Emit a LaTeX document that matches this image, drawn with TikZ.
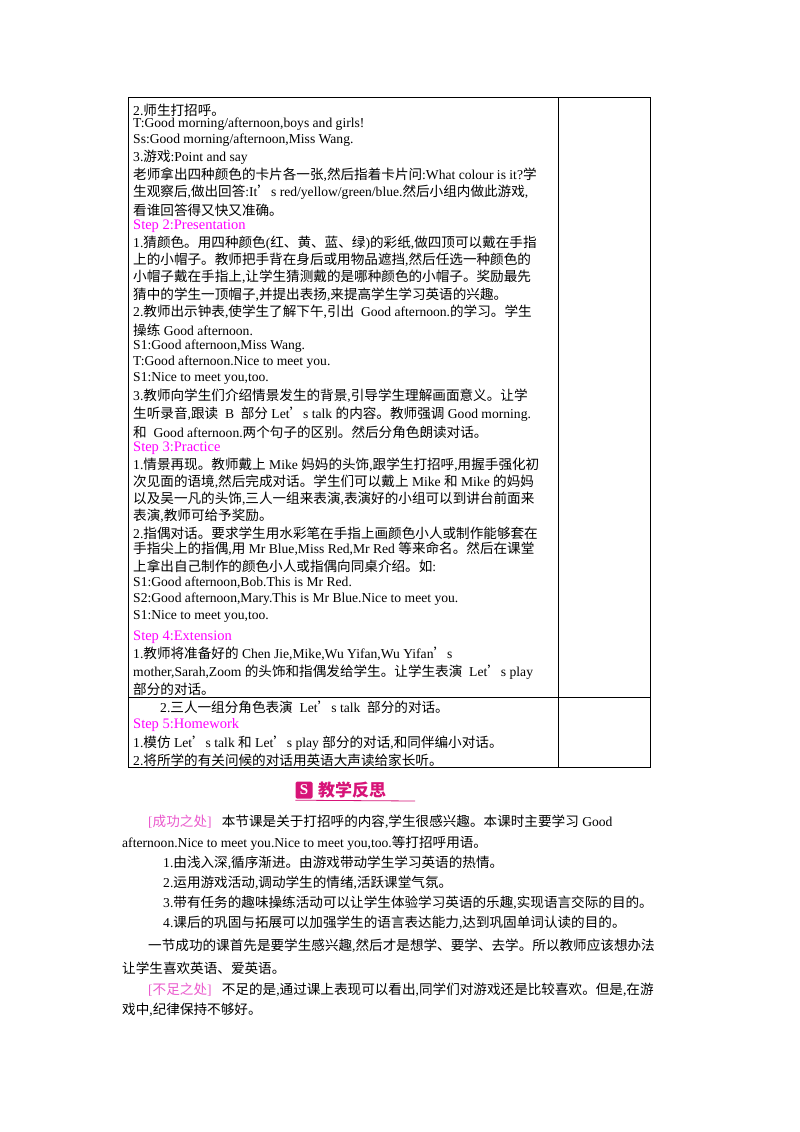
\documentclass[tikz,border=0pt]{standalone}
\usepackage{fontspec}
\setmainfont{Liberation Serif}
\newfontfamily\cjk{Noto Sans CJK SC}
\XeTeXinterchartokenstate=1
\newXeTeXintercharclass\cjkclass
\newcount\cc
\cc="3000 \loop\ifnum\cc<"A000 \XeTeXcharclass\cc=\cjkclass \advance\cc by 1 \repeat
\cc="FF00 \loop\ifnum\cc<"FFF0 \XeTeXcharclass\cc=\cjkclass \advance\cc by 1 \repeat
\XeTeXcharclass"2019=\cjkclass
\XeTeXinterchartoks 0 \cjkclass={\begingroup\cjk}
\XeTeXinterchartoks 4095 \cjkclass={\begingroup\cjk}
\XeTeXinterchartoks \cjkclass 0={\endgroup}
\XeTeXinterchartoks \cjkclass 4095={\endgroup}
\definecolor{mag}{RGB}{255,0,255}
\definecolor{pinkl}{RGB}{235,90,205}
\definecolor{hdr}{RGB}{215,20,120}
\begin{document}
\begin{tikzpicture}[x=1pt,y=-1pt,
  tl/.style={anchor=west,inner sep=0pt,font=\fontsize{13.6}{16}\selectfont},
  sh/.style={tl,text=mag,font=\fontsize{14.5}{16}\selectfont}]
\useasboundingbox[fill=white] (0,0) rectangle (800,1132);
\draw[line width=0.9pt] (128,97) rectangle (650,767);
\draw[line width=0.7pt] (558,97) -- (558,767);
\draw[line width=0.7pt] (128,697) -- (650,697);
% table text
\node[tl] (a1) at (133,110) {2.师生打招呼。};
\node[tl] (a2) at (133,124) {T:Good morning/afternoon,boys and girls!};
\node[tl] (a3) at (133,140) {Ss:Good morning/afternoon,Miss Wang.};
\node[tl] (a4) at (133,157) {3.游戏:Point and say};
\node[tl] (a5) at (133,175) {老师拿出四种颜色的卡片各一张,然后指着卡片问:What colour is it?学};
\node[tl] (a6) at (133,192) {生观察后,做出回答:It’s red/yellow/green/blue.然后小组内做此游戏,};
\node[tl] (a7) at (133,210) {看谁回答得又快又准确。};
\node[sh] (s2) at (133,226) {Step 2:Presentation};
\node[tl] (b1) at (133,243) {1.猜颜色。用四种颜色(红、黄、蓝、绿)的彩纸,做四顶可以戴在手指};
\node[tl] (b2) at (133,260) {上的小帽子。教师把手背在身后或用物品遮挡,然后任选一种颜色的};
\node[tl] (b3) at (133,277) {小帽子戴在手指上,让学生猜测戴的是哪种颜色的小帽子。奖励最先};
\node[tl] (b4) at (133,295) {猜中的学生一顶帽子,并提出表扬,来提高学生学习英语的兴趣。};
\node[tl] (b5) at (133,312) {2.教师出示钟表,使学生了解下午,引出 \ Good afternoon.的学习。学生};
\node[tl] (b6) at (133,330) {操练 Good afternoon.};
\node[tl] (b7) at (133,346) {S1:Good afternoon,Miss Wang.};
\node[tl] (b8) at (133,362) {T:Good afternoon.Nice to meet you.};
\node[tl] (b9) at (133,378) {S1:Nice to meet you,too.};
\node[tl] (b10) at (133,396) {3.教师向学生们介绍情景发生的背景,引导学生理解画面意义。让学};
\node[tl] (b11) at (133,414) {生听录音,跟读 \ B \ 部分 Let’s talk 的内容。教师强调 Good morning.};
\node[tl] (b12) at (133,432) {和 \ Good afternoon.两个句子的区别。然后分角色朗读对话。};
\node[sh] (s3) at (133,448) {Step 3:Practice};
\node[tl] (c1) at (133,465) {1.情景再现。教师戴上 Mike 妈妈的头饰,跟学生打招呼,用握手强化初};
\node[tl] (c2) at (133,482) {次见面的语境,然后完成对话。学生们可以戴上 Mike 和 Mike 的妈妈};
\node[tl] (c3) at (133,499) {以及吴一凡的头饰,三人一组来表演,表演好的小组可以到讲台前面来};
\node[tl] (c4) at (133,516) {表演,教师可给予奖励。};
\node[tl] (c5) at (133,533) {2.指偶对话。要求学生用水彩笔在手指上画颜色小人或制作能够套在};
\node[tl] (c6) at (133,549) {手指尖上的指偶,用 Mr Blue,Miss Red,Mr Red 等来命名。然后在课堂};
\node[tl] (c7) at (133,566) {上拿出自己制作的颜色小人或指偶向同桌介绍。如:};
\node[tl] (c8) at (133,583) {S1:Good afternoon,Bob.This is Mr Red.};
\node[tl] (c9) at (133,599) {S2:Good afternoon,Mary.This is Mr Blue.Nice to meet you.};
\node[tl] (c10) at (133,616) {S1:Nice to meet you,too.};
\node[sh] (s4) at (133,637) {Step 4:Extension};
\node[tl] (d1) at (133,654) {1.教师将准备好的 Chen Jie,Mike,Wu Yifan,Wu Yifan’s};
\node[tl] (d2) at (133,672) {mother,Sarah,Zoom 的头饰和指偶发给学生。让学生表演 \ Let’s play};
\node[tl] (d3) at (133,689) {部分的对话。};
\node[tl] (d4) at (160,707) {2.三人一组分角色表演 \ Let’s talk \ 部分的对话。};
\node[sh] (s5) at (133,725) {Step 5:Homework};
\node[tl] (e1) at (133,743) {1.模仿 Let’s talk 和 Let’s play 部分的对话,和同伴编小对话。};
\node[tl] (e2) at (133,760) {2.将所学的有关问候的对话用英语大声读给家长听。};
% header
\node[fill=hdr,minimum size=17pt,inner sep=0pt,rounded corners=1.5pt,text=white,font=\bfseries\fontsize{15}{15}\selectfont] (ic) at (304,790) {S};
\node[anchor=west,inner sep=0pt,text=hdr,font=\cjk\bfseries\fontsize{17}{17}\selectfont] (ht) at (318,790) {教学反思};
\draw[hdr,line width=0.8pt] (ic.south west) ++(0,1.5) -- (415,801);
% reflection
\node[tl] (f1) at (148,822) {\textcolor{pinkl}{[成功之处]} \ \ 本节课是关于打招呼的内容,学生很感兴趣。本课时主要学习 Good};
\node[tl] (f2) at (122,843) {afternoon.Nice to meet you.Nice to meet you,too.等打招呼用语。};
\node[tl] (f3) at (163,863) {1.由浅入深,循序渐进。由游戏带动学生学习英语的热情。};
\node[tl] (f4) at (163,883) {2.运用游戏活动,调动学生的情绪,活跃课堂气氛。};
\node[tl] (f5) at (163,903) {3.带有任务的趣味操练活动可以让学生体验学习英语的乐趣,实现语言交际的目的。};
\node[tl] (f6) at (163,923) {4.课后的巩固与拓展可以加强学生的语言表达能力,达到巩固单词认读的目的。};
\node[tl] (f7) at (148,946) {一节成功的课首先是要学生感兴趣,然后才是想学、要学、去学。所以教师应该想办法};
\node[tl] (f8) at (122,968) {让学生喜欢英语、爱英语。};
\node[tl] (f9) at (148,990) {\textcolor{pinkl}{[不足之处]} \ \ 不足的是,通过课上表现可以看出,同学们对游戏还是比较喜欢。但是,在游};
\node[tl] (f10) at (122,1010) {戏中,纪律保持不够好。};
\end{tikzpicture}
\end{document}
